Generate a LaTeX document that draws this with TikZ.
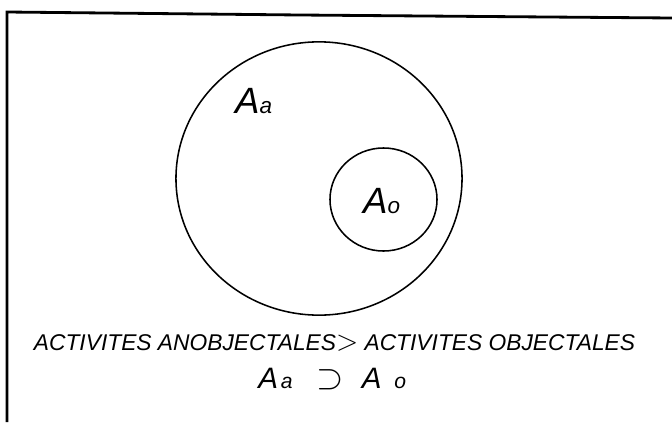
\documentclass[tikz,border=0pt]{standalone}
\usepackage{fontspec}
\setmainfont{Liberation Sans}
\usetikzlibrary{shapes.geometric, positioning}

\begin{document}
\begin{tikzpicture}[
  x=0.025cm, y=-0.025cm,
  set/.style={ellipse, draw, line width=1.1pt, inner sep=0pt},
  setlabel/.style={font=\fontsize{26}{28}\selectfont\itshape, inner sep=0pt},
  caption/.style={font=\fontsize{16.2}{18}\selectfont\itshape, inner sep=0pt},
  relation/.style={font=\fontsize{21}{22}\selectfont\itshape, inner sep=0pt},
  frame/.style={line width=2pt}
]
\useasboundingbox (0,0) rectangle (672,422);
% Frame (top and left edges only)
\draw[frame] (672,18) -- (300,15) -- (7,12) -- (7,422);
% Sets
\node[set, minimum width=7.15cm, minimum height=6.83cm] (Aa) at (319,178.5) {};
\node[set, minimum width=2.675cm, minimum height=2.575cm] (Ao) at (383.5,199.5) {};
% Set labels
\node[setlabel, anchor=base west] (la) at (235,113) {A{\fontsize{16}{16}\selectfont a}};
\node[setlabel, anchor=base west] (lo) at (363,213) {A{\fontsize{16}{16}\selectfont o}};
% Captions
\node[caption, anchor=base] (cap) at (334.5,350)
  {ACTIVITES ANOBJECTALES{\fontsize{22}{22}\selectfont$>$} ACTIVITES OBJECTALES};
\node[relation, anchor=base west] (rel) at (258,388)
  {A\hspace{2pt}{\fontsize{15}{15}\selectfont a}\hspace{17pt}{\fontsize{30}{30}\selectfont$\supset$}\hspace{13pt}A\hspace{9pt}{\fontsize{15}{15}\selectfont o}};
\end{tikzpicture}
\end{document}
